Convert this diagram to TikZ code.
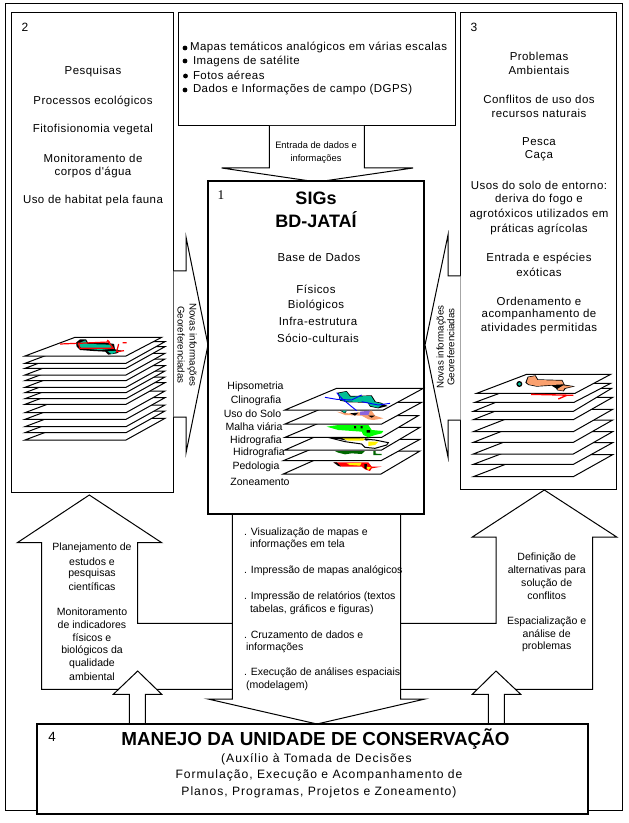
\documentclass[tikz,border=0pt]{standalone}
\usepackage{fontspec}
\setmainfont{Liberation Sans}
\newfontfamily\spaced[LetterSpace=4]{Liberation Sans}
\newfontfamily\wider[LetterSpace=8]{Liberation Sans}
\newfontfamily\tnr{Liberation Serif}
\definecolor{mapteal}{RGB}{0,190,150}
\definecolor{mapsalmon}{RGB}{250,160,110}
\definecolor{mappurple}{RGB}{140,100,220}
\tikzset{
  panel/.style={draw=black,fill=white,line width=.75pt,inner sep=0,outer sep=0},
  heavy/.style={panel,line width=1.5pt},
  blockarrow/.style={draw=black,fill=white,line width=.75pt,line join=miter},
  txt/.style={inner sep=0,outer sep=0,font=\fontsize{8.6}{10}\selectfont\spaced,text=black},
  small/.style={inner sep=0,outer sep=0,font=\fontsize{7}{9}\selectfont,text=black},
  sidetxt/.style={inner sep=0,outer sep=0,font=\fontsize{7.3}{9}\selectfont,text=black},
  arr/.style={inner sep=0,outer sep=0,font=\fontsize{7.9}{10}\selectfont,text=black},
  big/.style={inner sep=0,outer sep=0,font=\fontsize{9.1}{11}\selectfont\wider,text=black},
  lbl/.style={inner sep=0,outer sep=0,font=\fontsize{7.9}{10}\selectfont,text=black},
  sheet/.style={draw=black,fill=white,line width=.75pt},
}
\begin{document}
\begin{tikzpicture}[x=.75pt,y=-.75pt]
\useasboundingbox[fill=white] (0,0) rectangle (628,823);
% panels
\node[panel,minimum width=462.4pt,minimum height=604.5pt] (frame) at (313.75,407) {};
\node[panel,minimum width=121.5pt,minimum height=359.25pt] (b2) at (92.5,252.5) {};
\node[panel,minimum width=207.75pt,minimum height=84.75pt] (b0) at (316.5,69.5) {};
\node[panel,minimum width=117pt,minimum height=357pt] (b3) at (538.7,251) {};
% side arrows
\draw[blockarrow] (173.5,271)--(186,271)--(186,237)--(208,345)--(186,453)--(186,417)--(173.5,417);
\draw[blockarrow] (460.7,276)--(448,276)--(448,235)--(425,345)--(448,457)--(448,420)--(460.7,420);
% up arrows
\draw[blockarrow] (232.3,689.3)--(41.7,689.3)--(41.7,542.7)--(17.3,542.7)--(89.3,495)--(161.7,542.7)--(137.7,542.7)--(137.7,623.3)--(232.3,623.3);
\draw[blockarrow] (400.7,689.3)--(592.7,689.3)--(592.7,537)--(616.7,537)--(544.3,490)--(472.3,537)--(496,537)--(496,623.3)--(400.7,623.3);
% centre and top arrows
\draw[blockarrow] (232.3,514)--(232.3,699)--(208,699)--(317,724)--(425,699)--(400.7,699)--(400.7,514);
\draw[blockarrow] (269.3,126)--(269.3,168)--(221.7,168)--(317,182)--(413,168)--(364.3,168)--(364.3,126);
% small arrows
\draw[blockarrow] (129.3,724)--(129.3,694.3)--(113.3,694.3)--(137.7,671)--(161.7,694.3)--(145.3,694.3)--(145.3,724);
\draw[blockarrow] (488.3,724)--(488.3,694.3)--(472.3,694.3)--(496,671)--(520.7,694.3)--(504.3,694.3)--(504.3,724);
% main boxes
\node[heavy,minimum width=162pt,minimum height=250.1pt] (b1) at (316,347.75) {};
\node[heavy,minimum width=413.7pt,minimum height=67.5pt] (b4) at (312.5,769) {};
% left stack
\begin{scope}[shift={(0,320)},x=.25pt,y=-.25pt]
\foreach \y in {360,338,320,298,278,253,236,218,202,182,165,145,130}
  \draw[sheet] (75,\y)--(378,\y)--(495,\y-65)--(248,\y-65)--cycle;
\draw[sheet] (75,108)--(378,108)--(485,52)--(225,52)--cycle;
\fill[black] (228,68)--(240,58)--(258,58)--(264,68)--(320,68)--(342,72)--(345,88)--(365,92)--(350,100)--(325,104)--(316,95)--(280,93)--(240,90)--(230,80)--cycle;
\fill[mapteal] (232,72)--(256,61)--(262,72)--(335,74)--(340,86)--(300,90)--(245,85)--cycle;
\fill[mapteal] (322,94)--(360,92)--(335,102)--cycle;
\draw[red,line width=.9pt] (180,72)--(230,70) (235,70)--(325,66)--(340,85)--(240,85)--cycle (322,60)--(330,68) (368,68)--(380,68) (356,72)--(350,95)--(372,92);
\end{scope}
% centre stack
\begin{scope}[shift={(205,370)},x=.25pt,y=-.25pt]
\draw[sheet] (235,312)--(528,312)--(645,243)--(390,243)--cycle;
\draw[sheet] (235,272)--(528,272)--(645,208)--(390,208)--cycle;
\draw[sheet] (240,240)--(530,240)--(645,172)--(395,172)--cycle;
\draw[sheet] (240,202)--(530,202)--(640,137)--(395,137)--cycle;
\draw[sheet] (240,162)--(530,162)--(650,97)--(395,97)--cycle;
\draw[sheet] (240,120)--(535,120)--(655,55)--(395,55)--cycle;
% hypsometry
\fill[black] (398,68)--(425,63)--(437,78)--(500,76)--(512,95)--(528,98)--(548,108)--(520,115)--(495,110)--(488,98)--(430,97)--(405,92)--cycle;
\fill[mapteal] (401,70)--(424,65)--(435,80)--(498,78)--(509,96)--(535,102)--(519,113)--(497,108)--(487,96)--(430,95)--(406,90)--cycle;
\draw[blue,line width=.7pt] (360,82)--(395,88)--(440,90)--(470,75) (395,68)--(410,85)--(440,110)--(455,122) (470,95)--(520,105)--(555,100);
% land use
\fill[mapsalmon] (395,125)--(430,130)--(455,128)--(500,122)--(510,137)--(535,145)--(505,150)--(490,148)--(470,137)--(420,135)--cycle;
\fill[mappurple] (465,125)--(495,122)--(490,135)--(465,135)--cycle;
\fill[black] (405,122)--(425,124)--(420,130)--cycle (435,130)--(460,128)--(450,137)--cycle (490,137)--(510,137)--(500,143)--cycle;
\fill[mapteal] (410,122)--(425,122)--(418,128)--cycle;
% roads
\fill[green] (365,170)--(400,165)--(490,165)--(500,180)--(535,183)--(530,190)--(510,195)--(490,202)--(475,195)--(470,185)--(400,180)--cycle;
\fill[black] (447,168) rectangle (453,175) (467,168) rectangle (473,175) (485,180) rectangle (495,188);
% hydro
\draw[black,fill=white,line width=.75pt] (380,205)--(450,205)--(510,210)--(550,218)--(545,225)--(510,235)--(480,232)--(470,222)--(420,215)--cycle;
\fill[yellow] (410,205)--(480,205)--(475,212)--(430,212)--cycle (490,215)--(520,215)--(510,225)--(490,228)--cycle;
\fill[black] (392,205)--(412,205)--(425,212)--cycle (480,205)--(505,208)--(482,212)--cycle;
% vegetation
\fill[green!40!black] (390,243)--(480,243)--(470,252)--(440,250)--(420,253)--(400,248)--cycle (505,243)--(512,243)--(512,251)--(530,252)--(530,255)--(505,255)--cycle;
% pedology
\fill[red] (385,277)--(490,277)--(500,290)--(530,290)--(500,295)--(495,303)--(480,298)--(470,290)--(410,290)--cycle;
\fill[yellow] (425,280)--(470,278)--(465,287)--(435,285)--cycle (482,290)--(498,292)--(490,300)--cycle;
\fill[black] (385,277)--(395,277)--(408,290)--(400,288)--cycle (478,282)--(486,282)--(484,298)--(478,294)--cycle;
\end{scope}
% right stack
\begin{scope}[shift={(420,250)},x=.25pt,y=-.25pt]
\foreach \y/\t in {680/614,643/578,612/545,577/510,545/478,509/442}
  \draw[sheet] (160,\y)--(460,\y)--(578,\t)--(332,\t)--cycle;
\draw[sheet] (160,484)--(460,484)--(575,415)--(332,415)--cycle;
\draw[sheet] (165,457)--(462,457)--(572,400)--(320,400)--cycle;
\draw[sheet] (170,430)--(465,430)--(572,373)--(320,373)--cycle;
\fill[black] (316,398)--(323,380)--(347,376)--(354,388)--(427,390)--(434,404)--(465,409)--(437,416)--(431,424)--(412,421)--(408,415)--(395,407)--(350,410)--(325,405)--cycle;
\fill[mapsalmon] (320,397)--(325,382)--(345,378)--(352,390)--(425,392)--(431,403)--(395,405)--(350,408)--(326,403)--cycle (412,417)--(430,406)--(458,410)--(434,414)--(429,422)--(414,420)--cycle;
\fill[black] (298,402) circle[radius=9];
\fill[mapteal] (298,402) circle[radius=5];
\draw[red,line width=1pt] (333,433)--(460,436) (415,447)--(440,436);
\end{scope}
% labels: numbers
\node[lbl,font=\fontsize{9}{11}\selectfont] (n2) at (25,27) {2};
\node[lbl,font=\fontsize{9}{11}\selectfont] (n3) at (474,27) {3};
\node[lbl,font=\fontsize{10}{11}\selectfont\tnr] (n1) at (221,195) {1};
\node[lbl,font=\fontsize{10}{11}\selectfont] (n4) at (52,737) {4};
% panel 2
\node[txt] (p1) at (93,72) {Pesquisas};
\node[txt] (p2) at (93,101) {Processos ecológicos};
\node[txt] (p3) at (93,130) {Fitofisionomia vegetal};
\node[txt] (p4) at (93,158) {Monitoramento de};
\node[txt] (p5) at (93,172) {corpos d'água};
\node[txt] (p6) at (93,201) {Uso de habitat pela fauna};
% top panel
\foreach \x/\y in {185/48,185/61,185.5/76,185/90} \fill[black] (\x,\y) circle[radius=2.4];
\node[txt,anchor=west] (t1) at (190,47) {Mapas temáticos analógicos em várias escalas};
\node[txt,anchor=west] (t2) at (193,61) {Imagens de satélite};
\node[txt,anchor=west] (t3) at (193,75.5) {Fotos aéreas};
\node[txt,anchor=west] (t4) at (193,90) {Dados e Informações de campo (DGPS)};
\node[small] (e1) at (316,145) {Entrada de dados e};
\node[small] (e2) at (316,159) {informações};
% box 1
\node[inner sep=0,font=\fontsize{13.5}{15}\selectfont\bfseries] (s1) at (316,198) {SIGs};
\node[inner sep=0,font=\fontsize{13.5}{15}\selectfont\bfseries] (s2) at (316,220) {BD-JATAÍ};
\node[txt] (s3) at (319,257) {Base de Dados};
\node[txt] (s4) at (316,289) {Físicos};
\node[txt] (s5) at (316,305) {Biológicos};
\node[txt] (s6) at (318,321) {Infra-estrutura};
\node[txt] (s7) at (318,338) {Sócio-culturais};
\node[lbl] (l1) at (255.5,387) {Hipsometria};
\node[lbl] (l2) at (256,401) {Clinografia};
\node[lbl] (l3) at (252.5,414) {Uso do Solo};
\node[lbl] (l4) at (254,427) {Malha viária};
\node[lbl] (l5) at (256,441) {Hidrografia};
\node[lbl] (l6) at (259,453) {Hidrografia};
\node[lbl] (l7) at (256,467) {Pedologia};
\node[lbl] (l8) at (260,482) {Zoneamento};
% side arrow labels
\node[sidetxt,rotate=-90] (a1) at (192,345) {Novas informações};
\node[sidetxt,rotate=-90] (a2) at (181,345) {Georeferenciadas};
\node[sidetxt,rotate=90] (a3) at (441,347) {Novas informações};
\node[sidetxt,rotate=90] (a4) at (451,347) {Georeferenciadas};
% panel 3
\node[txt] (r1) at (539,56) {Problemas};
\node[txt] (r2) at (539,70) {Ambientais};
\node[txt] (r3) at (539,99) {Conflitos de uso dos};
\node[txt] (r4) at (539,113) {recursos naturais};
\node[txt] (r5) at (539,142) {Pesca};
\node[txt] (r6) at (539,156) {Caça};
\node[txt] (r7) at (539,185) {Usos do solo de entorno:};
\node[txt] (r8) at (539,200) {deriva do fogo e};
\node[txt] (r9) at (539,214) {agrotóxicos utilizados em};
\node[txt] (r10) at (539,229) {práticas agrícolas};
\node[txt] (r11) at (539,258) {Entrada e espécies};
\node[txt] (r12) at (539,272) {exóticas};
\node[txt] (r13) at (539,301) {Ordenamento e};
\node[txt] (r14) at (539,315) {acompanhamento  de};
\node[txt] (r15) at (539,329) {atividades permitidas};
% left up arrow
\node[arr] (u1) at (92,548) {Planejamento de};
\node[arr] (u2) at (92,562) {estudos e};
\node[arr] (u3) at (92,574) {pesquisas};
\node[arr] (u4) at (92,587) {científicas};
\node[arr] (u5) at (92,612) {Monitoramento};
\node[arr] (u6) at (92,625) {de indicadores};
\node[arr] (u7) at (92,638) {físicos e};
\node[arr] (u8) at (92,651) {biológicos da};
\node[arr] (u9) at (92,664) {qualidade};
\node[arr] (u10) at (92,677) {ambiental};
% centre arrow
\node[arr,anchor=west] (c1) at (244,533) {. Visualização de mapas e};
\node[arr,anchor=west] (c2) at (250,545) {informações em tela};
\node[arr,anchor=west] (c3) at (244,571) {. Impressão de mapas analógicos};
\node[arr,anchor=west] (c4) at (244,597) {. Impressão de relatórios (textos};
\node[arr,anchor=west] (c5) at (250,610) {tabelas, gráficos e figuras)};
\node[arr,anchor=west] (c6) at (244,635) {. Cruzamento de dados e};
\node[arr,anchor=west] (c7) at (246,648) {informações};
\node[arr,anchor=west] (c8) at (244,673) {. Execução de análises espaciais};
\node[arr,anchor=west] (c9) at (246,686) {(modelagem)};
% right up arrow
\node[arr] (v1) at (546.7,557.7) {Definição de};
\node[arr] (v2) at (546.7,570.7) {alternativas para};
\node[arr] (v3) at (546.7,583.7) {solução de};
\node[arr] (v4) at (546.7,595.7) {conflitos};
\node[arr] (v5) at (546.7,621.7) {Espacialização e};
\node[arr] (v6) at (546.7,634) {análise de};
\node[arr] (v7) at (546.7,647) {problemas};
% box 4
\node[inner sep=0,font=\fontsize{14.15}{16}\selectfont\bfseries] (m1) at (315.5,739) {MANEJO DA UNIDADE DE CONSERVAÇÃO};
\node[big] (m2) at (316.5,759) {(Auxílio à Tomada de Decisões};
\node[big] (m3) at (319,775) {Formulação, Execução e Acompanhamento de};
\node[big] (m4) at (319,792) {Planos, Programas, Projetos e Zoneamento)};
\end{tikzpicture}
\end{document}
